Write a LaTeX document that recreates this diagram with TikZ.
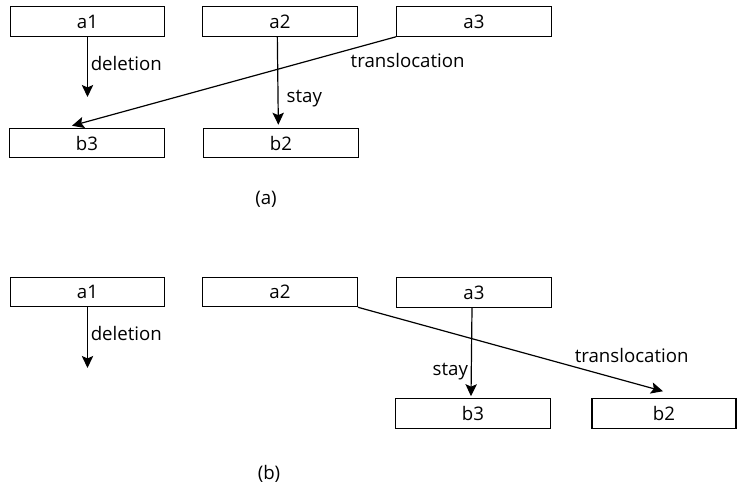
\documentclass[tikz,border=0pt]{standalone}
\usepackage{fontspec}
\setmainfont{Open Sans}
\usetikzlibrary{arrows.meta,calc}

\begin{document}
\begin{tikzpicture}[
    x=0.75pt,y=-0.75pt,
    box/.style={draw,line width=0.9pt,minimum width=116pt,minimum height=22pt,
                inner sep=0pt,font=\fontsize{14}{16}\selectfont},
    arrow/.style={-{Stealth[length=9pt,width=8.5pt,inset=1.8pt]},line width=0.9pt},
    lbl/.style={font=\fontsize{14}{16}\selectfont,inner sep=2pt}
]
\useasboundingbox (0,0) rectangle (737,489);
% case (a)
\node[box] (a1) at (87.5,21.5) {a1};
\node[box] (a2) at (280,21.5) {a2};
\node[box] (a3) at (474,21.5) {a3};
\node[box] (b3) at (87,143) {b3};
\node[box] (b2) at (281,143) {b2};
\coordinate (lostA) at (87.5,97);
\node[lbl] (capA) at (266,199) {(a)};

\draw[arrow] (a1.south) -- node[lbl,pos=0.45,right] {deletion} (lostA);
\draw[arrow] ([xshift=-2pt]a2.south) -- node[lbl,pos=0.7,right=4pt] {stay}
    ([xshift=-2pt]$(b2.north)+(0,-3)$);
\draw[arrow] (a3.south west) -- node[lbl,pos=0.15,anchor=north west] {translocation}
    ($(b3.north)+(-15,-2)$);

% case (b)
\node[box] (c1) at (87.5,292) {a1};
\node[box] (c2) at (280,292) {a2};
\node[box] (c3) at (474,292.5) {a3};
\node[box] (d3) at (473,413.5) {b3};
\node[box,minimum width=108pt] (d2) at (664,413.5) {b2};
\coordinate (lostB) at (87.5,368);
\node[lbl] (capB) at (269,474) {(b)};

\draw[arrow] (c1.south) -- node[lbl,pos=0.43,right] {deletion} (lostB);
\draw[arrow] ([xshift=-1.5pt]c3.south) -- node[lbl,pos=0.72,left] {stay}
    ([xshift=-1.5pt]$(d3.north)+(0,-2)$);
\draw[arrow] (c2.south east) -- node[lbl,pos=0.7,anchor=south west] {translocation}
    ($(d2.north)+(-1,-7)$);
\end{tikzpicture}
\end{document}
